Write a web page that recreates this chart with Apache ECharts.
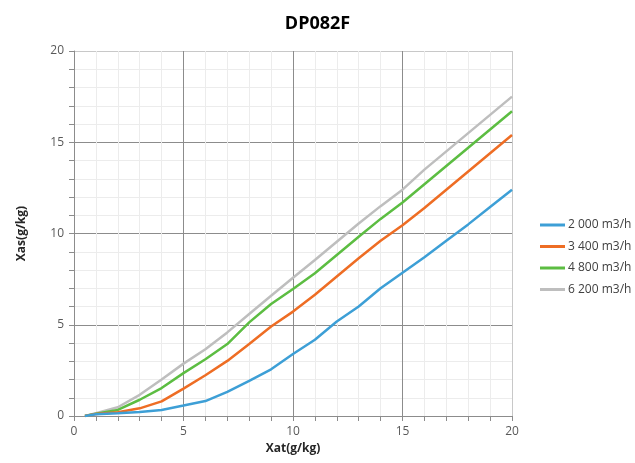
<!DOCTYPE html>
<html>
<head>
<meta charset="utf-8">
<script src="https://cdn.jsdelivr.net/npm/echarts@6/dist/echarts.min.js"></script>
<style>html,body{margin:0;padding:0;background:#fff;}#c{width:635px;height:463px;}</style>
</head>
<body>
<div id="c"></div>
<script>
var xValues = [0.5, 1, 2, 3, 4, 5, 6, 7, 8, 9, 10, 11, 12, 13, 14, 15, 16, 17, 18, 19, 20];
var seriesNames = ['2 000 m3/h', '3 400 m3/h', '4 800 m3/h', '6 200 m3/h'];
var flow2000 = [0, 0.09, 0.15, 0.22, 0.33, 0.57, 0.82, 1.32, 1.92, 2.56, 3.4, 4.18, 5.18, 6.0, 7.0, 7.85, 8.7, 9.6, 10.5, 11.45, 12.4];
var flow3400 = [0, 0.11, 0.2, 0.42, 0.8, 1.5, 2.23, 3.02, 3.94, 4.9, 5.72, 6.64, 7.64, 8.64, 9.6, 10.45, 11.4, 12.4, 13.4, 14.4, 15.4];
var flow4800 = [0, 0.13, 0.33, 0.89, 1.53, 2.35, 3.11, 3.94, 5.13, 6.14, 6.96, 7.82, 8.82, 9.82, 10.8, 11.7, 12.7, 13.7, 14.7, 15.7, 16.7];
var flow6200 = [0, 0.15, 0.48, 1.16, 2.0, 2.87, 3.66, 4.58, 5.59, 6.59, 7.58, 8.55, 9.55, 10.55, 11.5, 12.4, 13.5, 14.5, 15.5, 16.5, 17.5];
var xTicks = [0, 5, 10, 15, 20];
var yTicks = [0, 5, 10, 15, 20];

var allData = [flow2000, flow3400, flow4800, flow6200];
var colors = ['#3D9FD6', '#EE6D24', '#5CBD42', '#BEBEBE'];

function pairs(ys) { return xValues.map(function (x, i) { return [x, ys[i]]; }); }

var font = 'Open Sans, Liberation Sans, sans-serif';
function axisCommon(name, gap) {
  return {
    type: 'value', min: 0, max: 20, interval: 5,
    name: name, nameLocation: 'middle', nameGap: gap,
    nameTextStyle: { fontFamily: font, fontSize: 12, fontWeight: 'bold', color: '#262626' },
    axisLine: { show: true, lineStyle: { color: '#8c8c8c', width: 1 } },
    axisTick: { show: true, length: 5, lineStyle: { color: '#8c8c8c' } },
    minorTick: { show: true, splitNumber: 5, length: 5, lineStyle: { color: '#8c8c8c' } },
    axisLabel: { fontFamily: font, fontSize: 12, color: '#595959' },
    splitLine: { show: true, lineStyle: { color: ['#8c8c8c', '#8c8c8c', '#8c8c8c', '#8c8c8c', '#c8c8c8'], width: 1 } },
    minorSplitLine: { show: true, lineStyle: { color: '#ececec', width: 1 } }
  };
}

var xAxis = axisCommon('Xat(g/kg)', 24);
xAxis.axisLabel.margin = 10;
var yAxis = axisCommon('Xas(g/kg)', 46);
yAxis.axisLabel.margin = 10;

var chart = echarts.init(document.getElementById('c'), null, { renderer: 'canvas' });
chart.setOption({
  backgroundColor: '#fff',
  animation: false,
  title: {
    text: 'DP082F', left: 'center', top: 10,
    textStyle: { fontFamily: font, fontSize: 18, fontWeight: 'bold', color: '#000' }
  },
  legend: {
    orient: 'vertical', left: 535, top: 214, itemGap: 9.5,
    itemWidth: 25, itemHeight: 3, icon: 'rect',
    data: seriesNames,
    textStyle: { fontFamily: font, fontSize: 12, color: '#404040', padding: [0, 0, 0, -2] }
  },
  grid: { left: 74, right: 123, top: 51, bottom: 47, containLabel: false },
  xAxis: xAxis,
  yAxis: yAxis,
  series: seriesNames.map(function (n, i) {
    return {
      name: n, type: 'line', data: pairs(allData[i]), showSymbol: false, symbol: 'none',
      itemStyle: { color: colors[i] },
      lineStyle: { color: colors[i], width: 2.5 }, z: 10 - i
    };
  })
});
</script>
</body>
</html>
